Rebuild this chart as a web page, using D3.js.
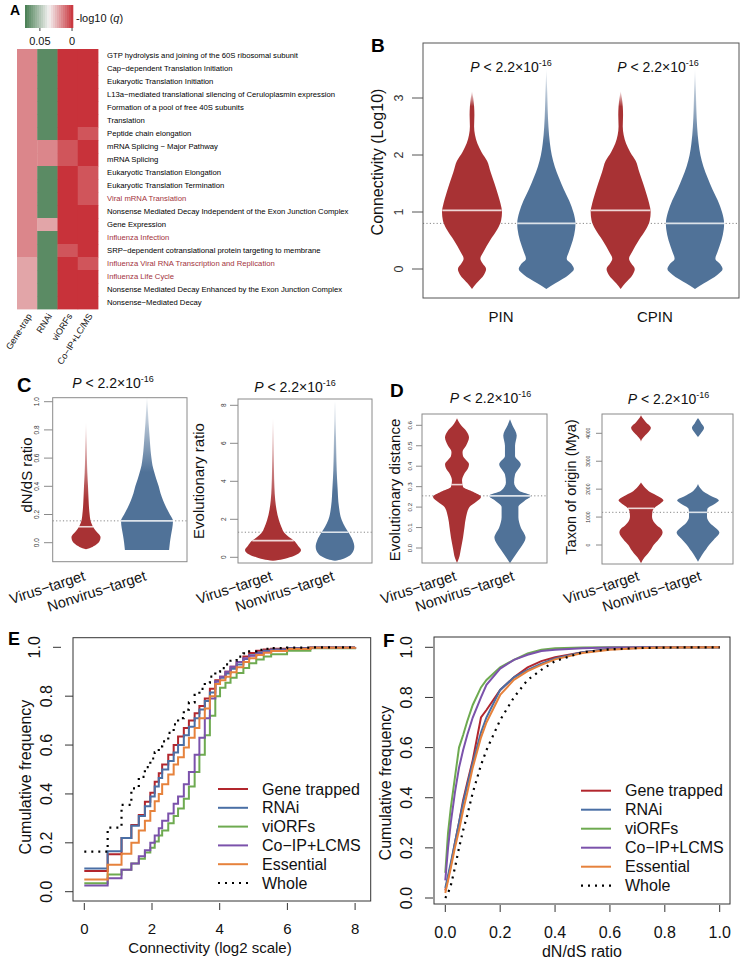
<!DOCTYPE html>
<html><head><meta charset="utf-8">
<script src="https://cdn.jsdelivr.net/npm/d3@7"></script>
<style>body{margin:0;background:#fff}</style>
</head><body><svg id="c" width="746" height="960"></svg>
<script>
// ---------------- DATA ----------------
// Panel A
const pathways = [
"GTP hydrolysis and joining of the 60S ribosomal subunit",
"Cap\u2212dependent Translation Initiation",
"Eukaryotic Translation Initiation",
"L13a\u2212mediated translational silencing of Ceruloplasmin expression",
"Formation of a pool of free 40S subunits",
"Translation",
"Peptide chain elongation",
"mRNA Splicing \u2212 Major Pathway",
"mRNA Splicing",
"Eukaryotic Translation Elongation",
"Eukaryotic Translation Termination",
"Viral mRNA Translation",
"Nonsense Mediated Decay Independent of the Exon Junction Complex",
"Gene Expression",
"Influenza Infection",
"SRP\u2212dependent cotranslational protein targeting to membrane",
"Influenza Viral RNA Transcription and Replication",
"Influenza Life Cycle",
"Nonsense Mediated Decay Enhanced by the Exon Junction Complex",
"Nonsense\u2212Mediated Decay"];
const viralPathways = ["Viral mRNA Translation","Influenza Infection",
"Influenza Viral RNA Transcription and Replication","Influenza Life Cycle"];
const screens = ["Gene-trap","RNAi","viORFs","Co\u2212IP+LC/MS"];
// enrichment score on colour scale (0 = green end, 1 = red end)
const enrichment = [
[0.78,0.06,1,1],[0.78,0.06,1,1],[0.78,0.06,1,1],[0.78,0.06,1,1],[0.78,0.06,1,1],
[0.78,0.06,1,1],[0.78,0.06,1,0.91],[0.78,0.78,0.91,1],[0.78,0.78,0.91,1],[0.78,0.06,1,0.91],
[0.78,0.06,1,0.91],[0.78,0.06,1,0.91],[0.78,0.06,1,1],[0.78,0.70,1,1],[0.78,0.06,1,1],
[0.78,0.06,0.91,1],[0.70,0.06,1,0.91],[0.70,0.06,1,1],[0.70,0.06,1,1],[0.70,0.06,1,1]];
const colorbarTicks = [{label:"0.05", v:0.31},{label:"0", v:0.98}];

// Violin profiles: [value, relative half-width]
const pinVirus = [[-0.35,0],[-0.25,0.15],[-0.1,0.4],[0,0.47],[0.1,0.35],[0.18,0.28],[0.3,0.38],[0.5,0.6],[0.7,0.85],[0.85,0.97],[1.0,1.0],[1.15,0.95],[1.3,0.87],[1.5,0.75],[1.7,0.62],[1.9,0.5],[2.05,0.32],[2.2,0.18],[2.35,0.1],[2.5,0.07],[2.7,0.08],[2.85,0.07],[3.0,0.04],[3.12,0]];
const pinNonvirus = [[-0.35,0],[-0.25,0.3],[-0.1,0.75],[0,0.92],[0.08,0.85],[0.18,0.68],[0.3,0.75],[0.5,0.88],[0.7,0.96],[0.8,0.97],[1.0,0.9],[1.2,0.76],[1.4,0.58],[1.6,0.42],[1.8,0.28],[2.0,0.18],[2.2,0.12],[2.5,0.07],[2.8,0.045],[3.1,0.03],[3.5,0]];
const cpinVirus = pinVirus.map(d=>d.slice());
const cpinNonvirus = pinNonvirus.map(d=>d.slice());
const connectivityMedians = {virus:1.03, nonvirus:0.8};

const dndsVirus = [[-0.047,0],[-0.03,0.25],[-0.01,0.42],[0.01,0.52],[0.038,0.56],[0.06,0.5],[0.08,0.4],[0.1,0.31],[0.12,0.25],[0.16,0.17],[0.2,0.14],[0.25,0.115],[0.3,0.1],[0.4,0.077],[0.5,0.05],[0.6,0.035],[0.7,0.025],[0.85,0]];
const dndsNonvirus = [[-0.052,0.85],[0,0.88],[0.05,0.92],[0.1,0.97],[0.155,1],[0.2,0.88],[0.25,0.74],[0.3,0.62],[0.35,0.52],[0.4,0.45],[0.45,0.36],[0.5,0.28],[0.55,0.21],[0.6,0.17],[0.65,0.14],[0.75,0.1],[0.85,0.06],[0.95,0.03],[1.03,0]];
const dndsMedians = {virus:0.113, nonvirus:0.155};

const evoRatioVirus = [[-0.18,0],[-0.1,0.35],[0.0,0.6],[0.15,0.85],[0.39,1],[0.6,0.9],[0.88,0.74],[1.05,0.58],[1.26,0.42],[1.6,0.3],[1.96,0.21],[2.5,0.125],[3.0,0.08],[3.7,0.05],[4.6,0.035],[5.5,0.025],[6.5,0.015],[7.3,0]];
const evoRatioNonvirus = [[-0.18,0],[-0.1,0.25],[0.0,0.42],[0.2,0.6],[0.56,0.69],[0.91,0.63],[1.32,0.48],[1.6,0.36],[1.96,0.24],[2.67,0.14],[3.7,0.09],[4.6,0.06],[5.5,0.045],[6.35,0.035],[7.2,0.02],[8.0,0.01],[8.2,0]];
const evoRatioMedians = {virus:0.88, nonvirus:1.32};

const evoDistVirus = [[-0.073,0],[-0.05,0.08],[0,0.17],[0.05,0.25],[0.1,0.31],[0.15,0.375],[0.2,0.52],[0.225,0.79],[0.25,1],[0.275,0.67],[0.3,0.25],[0.33,0.21],[0.36,0.29],[0.39,0.46],[0.41,0.5],[0.43,0.375],[0.45,0.25],[0.47,0.23],[0.5,0.375],[0.54,0.5],[0.57,0.4],[0.6,0.17],[0.62,0.06],[0.635,0]];
const evoDistNonvirus = [[-0.075,0],[-0.06,0.08],[-0.03,0.25],[0,0.43],[0.05,0.65],[0.1,0.45],[0.15,0.35],[0.2,0.35],[0.23,0.6],[0.255,0.875],[0.28,0.375],[0.32,0.17],[0.36,0.21],[0.41,0.45],[0.45,0.21],[0.5,0.21],[0.55,0.28],[0.6,0.1],[0.63,0]];
const evoDistMedians = {virus:0.31, nonvirus:0.255};

const taxonVirus = [[-650,0],[-450,0.15],[-300,0.31],[-150,0.45],[0,0.56],[200,0.78],[450,0.96],[600,0.87],[700,0.71],[850,0.55],[1000,0.49],[1150,0.5],[1300,0.56],[1450,0.8],[1600,1],[1750,0.76],[1900,0.4],[2050,0.18],[2200,0.03],[2250,0],[3700,0],[3850,0.1],[4000,0.28],[4200,0.44],[4400,0.22],[4550,0.07],[4650,0]];
const taxonNonvirus = [[-600,0],[-450,0.11],[-300,0.22],[-150,0.36],[0,0.49],[200,0.71],[450,0.95],[600,0.8],[800,0.52],[1000,0.4],[1170,0.4],[1300,0.42],[1450,0.7],[1600,0.93],[1750,0.6],[1900,0.27],[2050,0.09],[2200,0],[3850,0],[3950,0.08],[4100,0.22],[4200,0.27],[4350,0.15],[4500,0.04],[4550,0]];
const taxonMedians = {virus:1313, nonvirus:1170};

const connTicks = [0,1,2,3];
const dndsTicks = [0,0.2,0.4,0.6,0.8,1.0];
const evoRatioTicks = [0,2,4,6,8];
const evoDistTicks = [0,0.1,0.2,0.3,0.4,0.5,0.6];
const taxonTicks = [0,1000,2000,3000,4000];
const targetGroups = ["Virus\u2212target","Nonvirus\u2212target"];
const networks = ["PIN","CPIN"];

// Panel E: cumulative frequency vs connectivity
const eConnectivity = [0,0.69,1.10,1.39,1.61,1.79,1.95,2.08,2.20,2.30,2.48,2.64,2.77,2.94,3.09,3.26,3.40,3.56,3.71,3.87,4.01,4.17,4.32,4.50,4.70,4.87,5.08,5.30,5.52,5.99,6.68,8.0];
const eGeneTrapped = [.085,.153,.22,.273,.314,.368,.405,.45,.485,.52,.56,.60,.635,.67,.70,.73,.76,.79,.83,.865,.88,.9,.92,.94,.962,.977,.986,.991,.994,.997,.999,1];
const eRNAi = [.095,.165,.22,.27,.31,.35,.39,.43,.465,.50,.535,.57,.60,.64,.675,.71,.745,.78,.815,.86,.875,.893,.912,.93,.952,.967,.979,.986,.991,.996,.999,1];
const eViORFs = [.035,.07,.09,.115,.135,.16,.18,.205,.23,.25,.28,.31,.34,.38,.43,.49,.56,.64,.72,.80,.835,.855,.875,.895,.915,.935,.95,.962,.972,.986,.996,1];
const eCoIP = [.025,.055,.09,.115,.145,.17,.2,.23,.26,.29,.32,.36,.39,.44,.49,.56,.63,.71,.79,.86,.88,.90,.92,.94,.955,.965,.974,.981,.987,.994,.998,1];
const eEssential = [.05,.11,.155,.2,.25,.29,.33,.37,.40,.44,.48,.52,.55,.59,.63,.67,.71,.75,.80,.85,.865,.88,.898,.918,.94,.955,.968,.978,.985,.993,.998,1];
const eWhole = [.164,.262,.355,.423,.47,.51,.545,.57,.595,.615,.65,.685,.71,.745,.775,.805,.83,.855,.88,.90,.915,.93,.945,.962,.975,.983,.99,.994,.997,.999,1,1];
const eTicksX = [0,2,4,6,8];
const cdfTicksY = [0,0.2,0.4,0.6,0.8,1.0];

// Panel F: cumulative frequency vs dN/dS
const fDnds = [0,0.01,0.02,0.035,0.05,0.065,0.08,0.1,0.13,0.15,0.2,0.25,0.3,0.35,0.4,0.5,0.6,0.7,0.8,1.0];
const fGeneTrapped = [.03,.08,.13,.22,.3,.39,.46,.55,.72,.75,.83,.88,.92,.945,.96,.98,.993,.998,1,1];
const fRNAi = [.04,.09,.14,.22,.3,.38,.45,.54,.66,.72,.83,.88,.91,.935,.955,.98,.993,.997,1,1];
const fViORFs = [.1,.26,.36,.48,.6,.65,.705,.77,.84,.87,.92,.95,.975,.99,.996,.999,1,1,1,1];
const fCoIP = [.07,.2,.3,.42,.52,.59,.65,.72,.8,.85,.915,.95,.97,.985,.99,.996,.999,1,1,1];
const fEssential = [.02,.07,.12,.2,.27,.35,.42,.52,.64,.7,.81,.87,.905,.93,.952,.977,.99,.996,.999,1];
const fWhole = [0,.02,.05,.12,.2,.27,.33,.42,.53,.59,.71,.8,.87,.91,.945,.98,.992,.997,.999,1];
const fTicksX = [0,0.2,0.4,0.6,0.8,1.0];
const seriesNames = ["Gene trapped","RNAi","viORFs","Co\u2212IP+LCMS","Essential","Whole"];

// ---------------- DRAWING ----------------
const FONT = "'Liberation Sans', Arial, Helvetica, sans-serif";
const RED = "#a83234", BLUE = "#507298";
const lineColors = ["#b2262d","#4a6fa5","#6eaa50","#7b52ab","#e6823c","#000"];
const svg = d3.select("#c").attr("font-family", FONT);
svg.append("rect").attr("width",746).attr("height",960).attr("fill","#fff");
const defs = svg.append("defs");

function txt(g, x, y, s, size, opts={}) {
  const t = g.append("text").attr("x",x).attr("y",y).attr("font-size",size).attr("fill",opts.fill||"#111").text(s);
  if (opts.anchor) t.attr("text-anchor",opts.anchor);
  if (opts.weight) t.attr("font-weight",opts.weight);
  return t;
}
function rotText(g, x, y, s, size, angle, anchor, fill) {
  return g.append("text").attr("transform",`translate(${x},${y}) rotate(${angle})`)
    .attr("text-anchor",anchor||"middle").attr("dy", anchor==="end"?null:"0.35em")
    .attr("font-size",size).attr("fill",fill||"#111").text(s);
}

// Panel letters
[["A",10,15,14],["B",371,52,19],["C",17,392,20],["D",390,397,19],["E",8,645,18],["F",383,647,19]]
  .forEach(([l,x,y,s])=>txt(svg,x,y,l,s,{weight:"bold",fill:"#000"}));

// ---- Panel A ----
const gA = svg.append("g");
const heatColor = d3.scaleLinear().domain([0,0.5,1]).range(["#467d51","#f4f2f2","#c8323a"]);
const hx = d3.scaleBand().domain(screens).range([17,98]);
const hy = d3.scaleBand().domain(pathways).range([49,309]);
pathways.forEach((p,i)=>screens.forEach((s,j)=>{
  gA.append("rect").attr("x",hx(s)).attr("y",hy(p)).attr("width",hx.bandwidth()+0.4)
    .attr("height",hy.bandwidth()+0.4).attr("fill",heatColor(enrichment[i][j]));
}));
gA.selectAll("text.row").data(pathways).join("text").attr("class","row")
  .attr("x",107).attr("y",d=>hy(d)+hy.bandwidth()/2).attr("dy","0.35em")
  .attr("font-size",7.7).attr("fill",d=>viralPathways.includes(d)?"#a3333d":"#000").text(d=>d);
screens.forEach(s=>{
  gA.append("text").attr("transform",`translate(${hx(s)+hx.bandwidth()/2+5},316) rotate(-58)`)
    .attr("text-anchor","end").attr("font-size",9).attr("fill","#111").text(s);
});
// colour bar
const cb = d3.scaleLinear().domain([0,1]).range([25,73]);
const nStripes = 24;
d3.range(nStripes).forEach(i=>{
  gA.append("rect").attr("x",cb(i/nStripes)).attr("y",5).attr("width",(73-25)/nStripes+0.3).attr("height",23)
    .attr("fill",heatColor((i+0.5)/nStripes));
});
colorbarTicks.forEach(t=>{
  gA.append("line").attr("x1",cb(t.v)).attr("x2",cb(t.v)).attr("y1",28).attr("y2",31).attr("stroke","#444");
  txt(gA,cb(t.v),45,t.label,11,{anchor:"middle"});
});
const ql = txt(gA,76,22,"-log10 (",11);
ql.append("tspan").attr("font-style","italic").text("q");
ql.append("tspan").text(")");

// ---- Violin helpers ----
let gid = 0;
function drawViolin(g, profile, cx, y, half, color, fadeFrom) {
  const area = d3.area().curve(d3.curveMonotoneY)
    .y(d=>y(d[0])).x0(d=>cx-d[1]*half).x1(d=>cx+d[1]*half);
  let fill = color;
  if (fadeFrom != null) {
    const id = "fade"+(gid++);
    const top = profile[profile.length-1][0];
    const gr = defs.append("linearGradient").attr("id",id).attr("gradientUnits","userSpaceOnUse")
      .attr("x1",0).attr("x2",0).attr("y1",y(fadeFrom)).attr("y2",y(top));
    gr.append("stop").attr("offset",0).attr("stop-color",color).attr("stop-opacity",1);
    gr.append("stop").attr("offset",1).attr("stop-color",color).attr("stop-opacity",0.12);
    fill = `url(#${id})`;
  }
  g.append("path").attr("d",area(profile)).attr("fill",fill);
}
function widthAt(profile, v) {
  const s = d3.scaleLinear().domain(profile.map(d=>d[0])).range(profile.map(d=>d[1]));
  return s(v);
}
function pLabel(g, x, y) {
  const t = g.append("text").attr("x",x).attr("y",y).attr("text-anchor","middle")
    .attr("font-size",14).attr("fill","#111");
  t.append("tspan").attr("font-style","italic").text("P");
  t.append("tspan").text(" < 2.2\u00d710");
  t.append("tspan").attr("dy",-6).attr("font-size",9).text("-16");
}
function violinPanel(o) {
  const g = svg.append("g");
  const y = d3.scaleLinear().domain(o.cal[0]).range(o.cal[1]);
  const [bx0,bx1,by0,by1] = o.box;
  g.append("line").attr("x1",bx0).attr("x2",bx1).attr("y1",y(o.ref)).attr("y2",y(o.ref))
    .attr("stroke","#7a7a7a").attr("stroke-width",0.9).attr("stroke-dasharray","1.2,2.2");
  o.violins.forEach(v=>{
    drawViolin(g, v.profile, v.cx, y, o.half, v.color, v.fade);
    const w = widthAt(v.profile, v.median)*o.half;
    g.append("line").attr("x1",v.cx-w).attr("x2",v.cx+w).attr("y1",y(v.median)).attr("y2",y(v.median))
      .attr("stroke","#fff").attr("stroke-opacity",0.8).attr("stroke-width",o.medW||1.6);
  });
  g.append("rect").attr("x",bx0).attr("y",by0).attr("width",bx1-bx0).attr("height",by1-by0)
    .attr("fill","none").attr("stroke",o.boxColor||"#8a8a8a").attr("stroke-width",1);
  o.ticks.forEach(t=>{
    g.append("line").attr("x1",o.tickX[0]).attr("x2",o.tickX[1]).attr("y1",y(t)).attr("y2",y(t))
      .attr("stroke",o.boxColor||"#8a8a8a");
    rotText(g, o.tickLabelX, y(t), o.fmt(t), o.tickSize, -90, "middle", "#333");
  });
  rotText(g, o.titleX, o.titleY, o.title, o.titleSize, -90, "middle", "#111");
  o.pLabels.forEach(p=>pLabel(g,p[0],p[1]));
  (o.cats||[]).forEach(c=>{
    g.append("text").attr("transform",`translate(${c.x},${c.y}) rotate(-18)`).attr("text-anchor","end")
      .attr("font-size",14.5).attr("fill","#111").text(c.label);
  });
  (o.groupLabels||[]).forEach(c=>txt(g,c.x,c.y,c.label,15,{anchor:"middle"}));
  return g;
}

// ---- Panel B ----
const bx = d3.scaleLinear().domain([1,4]).range([472,695]);
violinPanel({
  box:[423,739,43,298], cal:[[0,1],[269,212]], ref:connectivityMedians.nonvirus, half:30,
  boxColor:"#555", medW:1.8,
  violins:[
    {profile:pinVirus, cx:bx(1), color:RED, median:connectivityMedians.virus, fade:2.85},
    {profile:pinNonvirus, cx:bx(2), color:BLUE, median:connectivityMedians.nonvirus, fade:2.2},
    {profile:cpinVirus, cx:bx(3), color:RED, median:connectivityMedians.virus, fade:2.85},
    {profile:cpinNonvirus, cx:bx(4), color:BLUE, median:connectivityMedians.nonvirus, fade:2.2}],
  ticks:connTicks, fmt:d=>String(d), tickX:[412,423], tickLabelX:399, tickSize:12.5,
  title:"Connectivity (Log10)", titleX:377, titleY:162, titleSize:16,
  pLabels:[[511,72],[658,72]],
  groupLabels:[{label:networks[0],x:bx(1.39),y:322},{label:networks[1],x:bx(3.46),y:322}]
});

// ---- Panel C ----
violinPanel({
  box:[52.7,187,397.7,561.7], cal:[[0,1],[542.7,401.7]], ref:dndsMedians.nonvirus, half:26,
  violins:[
    {profile:dndsVirus, cx:86, color:RED, median:dndsMedians.virus, fade:0.3},
    {profile:dndsNonvirus, cx:147, color:BLUE, median:dndsMedians.nonvirus, fade:0.5}],
  ticks:dndsTicks, fmt:d3.format(".1f"), tickX:[44,52.7], tickLabelX:37, tickSize:6.5,
  title:"dN/dS ratio", titleX:27, titleY:475, titleSize:15,
  pLabels:[[113,388]],
  cats:[{label:targetGroups[0],x:86,y:580},{label:targetGroups[1],x:147,y:580}]
});
violinPanel({
  box:[238,372,399,563], cal:[[0,8],[557.3,405.3]], ref:evoRatioMedians.nonvirus, half:28,
  violins:[
    {profile:evoRatioVirus, cx:273, color:RED, median:evoRatioMedians.virus, fade:2.5},
    {profile:evoRatioNonvirus, cx:335, color:BLUE, median:evoRatioMedians.nonvirus, fade:3.5}],
  ticks:evoRatioTicks, fmt:d=>String(d), tickX:[230,238], tickLabelX:224, tickSize:6.5,
  title:"Evolutionary ratio", titleX:199, titleY:481, titleSize:15,
  pLabels:[[295,392]],
  cats:[{label:targetGroups[0],x:273,y:580},{label:targetGroups[1],x:335,y:580}]
});

// ---- Panel D ----
violinPanel({
  box:[422,547,414,563], cal:[[0,0.6],[548,425.3]], ref:evoDistMedians.nonvirus, half:24,
  violins:[
    {profile:evoDistVirus, cx:457, color:RED, median:evoDistMedians.virus},
    {profile:evoDistNonvirus, cx:510, color:BLUE, median:evoDistMedians.nonvirus}],
  ticks:evoDistTicks, fmt:d3.format(".1f"), tickX:[416,422], tickLabelX:410, tickSize:6.2,
  title:"Evolutionary distance", titleX:395, titleY:490, titleSize:15,
  pLabels:[[490.5,403]],
  cats:[{label:targetGroups[0],x:457,y:580},{label:targetGroups[1],x:515,y:580}]
});
violinPanel({
  box:[602,733,414,564], cal:[[0,4000],[545,433.3]], ref:taxonMedians.nonvirus, half:22.5,
  violins:[
    {profile:taxonVirus, cx:641, color:RED, median:taxonMedians.virus},
    {profile:taxonNonvirus, cx:698, color:BLUE, median:taxonMedians.nonvirus}],
  ticks:taxonTicks, fmt:d=>String(d), tickX:[596,602], tickLabelX:588, tickSize:5,
  title:"Taxon of origin (Mya)", titleX:571, titleY:487, titleSize:14.5,
  pLabels:[[668.5,404]],
  cats:[{label:targetGroups[0],x:640,y:580},{label:targetGroups[1],x:702,y:580}]
});

// ---- CDF panels ----
function cdfPanel(o) {
  const g = svg.append("g");
  const x = d3.scaleLinear().domain(o.xCal[0]).range(o.xCal[1]);
  const y = d3.scaleLinear().domain([0,1]).range(o.yRange);
  const line = d3.line().x(d=>x(d[0])).y(d=>y(d[1])).curve(o.step ? d3.curveStepAfter : d3.curveLinear);
  o.series.forEach((vals,i)=>{
    const p = g.append("path").attr("d", line(d3.zip(o.xs, vals))).attr("fill","none")
      .attr("stroke", lineColors[i]).attr("stroke-width", i===5?2.2:2);
    if (i===5) p.attr("stroke-dasharray","2,5");
  });
  const [bx0,bx1,by0,by1] = o.box;
  g.append("rect").attr("x",bx0).attr("y",by0).attr("width",bx1-bx0).attr("height",by1-by0)
    .attr("fill","none").attr("stroke","#333").attr("stroke-width",1);
  o.xTicks.forEach(t=>{
    g.append("line").attr("x1",x(t)).attr("x2",x(t)).attr("y1",o.xTickY[0]).attr("y2",o.xTickY[1]).attr("stroke","#333");
    txt(g, x(t), o.xLabelY, o.xFmt(t), o.tickFont, {anchor:"middle"});
  });
  cdfTicksY.forEach((t,i)=>{
    const off = (o.lastOffset && i===cdfTicksY.length-1) ? o.lastOffset : 0;
    g.append("line").attr("x1",o.yTickX[0]+off).attr("x2",o.yTickX[1]+off).attr("y1",y(t)).attr("y2",y(t)).attr("stroke","#333");
    rotText(g, o.yLabelX+off, y(t), d3.format(".1f")(t), 16, -90, "middle", "#111");
  });
  rotText(g, o.yTitleX, o.yTitleY, "Cumulative frequency", 16, -90, "middle", "#111");
  txt(g, o.xTitleX, o.xTitleY, o.xTitle, o.titleFont, {anchor:"middle"});
  seriesNames.forEach((n,i)=>{
    const ly = o.legY + i*o.legStep;
    const l = g.append("line").attr("x1",o.legX).attr("x2",o.legX+30).attr("y1",ly).attr("y2",ly)
      .attr("stroke",lineColors[i]).attr("stroke-width",i===5?2.2:2);
    if (i===5) l.attr("stroke-dasharray","2,5");
    txt(g, o.legX+44, ly+5.5, n, 16);
  });
}
cdfPanel({
  box:[73,370.7,637.7,901], xCal:[[0,2],[84.3,152]], yRange:[891.7,647.3], step:true,
  xs:eConnectivity, series:[eGeneTrapped,eRNAi,eViORFs,eCoIP,eEssential,eWhole],
  xTicks:eTicksX, xFmt:d=>String(d), xTickY:[903,910], xLabelY:934, tickFont:15,
  yTickX:[65,73], yLabelX:46, lastOffset:-12,
  yTitleX:25, yTitleY:777, xTitle:"Connectivity (log2 scale)", xTitleX:210, xTitleY:953, titleFont:15,
  legX:218, legY:789, legStep:18.8
});
cdfPanel({
  box:[434,730,637,904], xCal:[[0,1],[445.3,719.7]], yRange:[898,647.3], step:false,
  xs:fDnds, series:[fGeneTrapped,fRNAi,fViORFs,fCoIP,fEssential,fWhole],
  xTicks:fTicksX, xFmt:d3.format(".1f"), xTickY:[905,912], xLabelY:938, tickFont:16,
  yTickX:[425,433], yLabelX:406,
  yTitleX:385, yTitleY:783, xTitle:"dN/dS ratio", xTitleX:582, xTitleY:957, titleFont:16,
  legX:581, legY:790.7, legStep:19
});
</script></body></html>
